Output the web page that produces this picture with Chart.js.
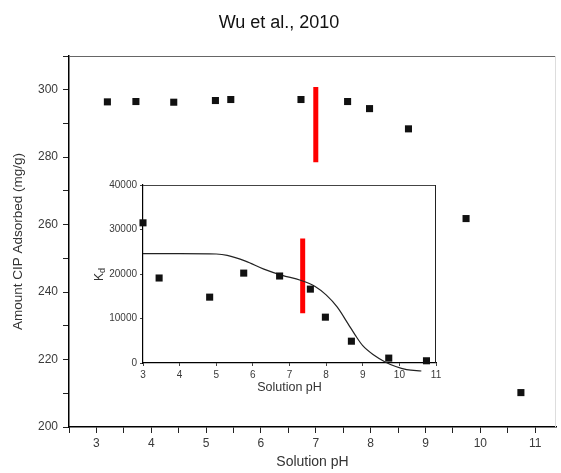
<!DOCTYPE html>
<html>
<head>
<meta charset="utf-8">
<script src="https://cdn.jsdelivr.net/npm/chart.js@4.4.1/dist/chart.umd.min.js"></script>
<style>
  body { margin: 0; background: #fff; }
  #wrap { position: relative; width: 561px; height: 473px; }
  #inset { position: absolute; left: 90px; top: 172px; background: #fff; }
</style>
</head>
<body>
<div id="wrap">
  <canvas id="mainChart" width="561" height="473"></canvas>
  <canvas id="inset" width="355" height="225"></canvas>
</div>
<script>
// main plot: CIP adsorbed vs pH
const mainPH = [3.2, 3.72, 4.41, 5.17, 5.45, 6.73, 7.58, 7.98, 8.69, 9.74, 10.74];
const mainAdsorbed = [296.4, 296.5, 296.3, 296.8, 297.1, 297.1, 296.5, 294.4, 288.4, 261.8, 210.2];
const mainRedPH = [7.0, 7.0];
const mainRedY = [300.8, 278.5];

// inset: Kd vs pH
const insetPH = [3.0, 3.44, 4.82, 5.75, 6.73, 7.57, 7.98, 8.69, 9.71, 10.74];
const insetKd = [31500, 19100, 14800, 20200, 19550, 16600, 10300, 4900, 1100, 500];
const fitPH = [3.0, 4.0, 5.0, 5.3, 5.8, 6.3, 6.8, 7.3, 7.7, 8.0, 8.3, 8.6, 8.8, 9.0, 9.3, 9.6, 9.9, 10.2, 10.6];
const fitKd = [24600, 24600, 24500, 24200, 22900, 21100, 19700, 18600, 17200, 15300, 12600, 8800, 6200, 3900, 1800, 300, -800, -1500, -1800];
const insetRedPH = [7.36, 7.36];
const insetRedKd = [28000, 11200];

const FONT = '"Liberation Sans", Arial, sans-serif';
const pts = (xs, ys) => xs.map((x, i) => ({x: x, y: ys[i]}));

Chart.defaults.font.family = FONT;
Chart.defaults.color = '#3a3a3a';

// frame lines not covered by the axes
const framePlugin = {
  id: 'frame',
  afterDraw(chart, args, opts) {
    const a = chart.chartArea, ctx = chart.ctx;
    ctx.save();
    ctx.lineWidth = 1;
    ctx.strokeStyle = opts.topColor;
    ctx.beginPath();
    ctx.moveTo(a.left, a.top + 0.5);
    ctx.lineTo(a.right, a.top + 0.5);
    ctx.stroke();
    ctx.strokeStyle = opts.rightColor;
    ctx.beginPath();
    ctx.moveTo(a.right - 0.5, a.top);
    ctx.lineTo(a.right - 0.5, a.bottom);
    ctx.stroke();
    ctx.restore();
  }
};

new Chart(document.getElementById('mainChart'), {
  type: 'scatter',
  data: {
    datasets: [{
      data: pts(mainPH, mainAdsorbed),
      pointStyle: 'rect',
      pointRadius: 5,
      backgroundColor: '#111',
      borderWidth: 0
    }, {
      data: pts(mainRedPH, mainRedY),
      showLine: true,
      borderColor: '#ff0000',
      borderWidth: 5,
      pointRadius: 0,
      borderCapStyle: 'butt'
    }]
  },
  options: {
    responsive: false,
    animation: false,
    layout: { padding: { left: 0, right: 3, top: 0, bottom: 0 } },
    plugins: {
      legend: { display: false },
      tooltip: { enabled: false },
      title: {
        display: true,
        text: 'Wu et al., 2010',
        color: '#111',
        font: { size: 18, weight: 'normal' },
        padding: { top: 12, bottom: 22.4 }
      },
      frame: { topColor: '#666', rightColor: '#ddd' }
    },
    scales: {
      x: {
        type: 'linear',
        min: 2.5,
        max: 11.38,
        border: { color: '#000', width: 1.5 },
        grid: { drawOnChartArea: false, tickLength: 6, color: '#222' },
        ticks: {
          stepSize: 0.5,
          includeBounds: false,
          padding: 3,
          maxRotation: 0,
          autoSkip: false,
          font: { size: 12 },
          callback: v => Number.isInteger(v) ? String(v) : ''
        },
        title: {
          display: true,
          text: 'Solution pH',
          color: '#333',
          font: { size: 14 },
          padding: { top: 2, bottom: 2 }
        },
        afterFit: s => { s.height = 46; }
      },
      y: {
        min: 200,
        max: 310,
        border: { color: '#000', width: 1.5 },
        grid: { drawOnChartArea: false, tickLength: 6, color: '#222' },
        ticks: {
          stepSize: 10,
          padding: 5,
          autoSkip: false,
          font: { size: 12 },
          callback: v => v % 20 === 0 ? String(v) : ''
        },
        title: {
          display: true,
          text: 'Amount CIP Adsorbed (mg/g)',
          color: '#333',
          font: { size: 13.5 },
          padding: { top: 10, bottom: 2 }
        },
        afterFit: s => { s.width = 69; }
      }
    }
  },
  plugins: [framePlugin]
});

// K with subscript d, rotated like an axis title
const kdLabel = {
  id: 'kdLabel',
  afterDraw(chart) {
    const ctx = chart.ctx, a = chart.chartArea;
    ctx.save();
    ctx.translate(10, (a.top + a.bottom) / 2);
    ctx.rotate(-Math.PI / 2);
    ctx.fillStyle = '#333';
    ctx.textBaseline = 'middle';
    ctx.font = '12px ' + FONT;
    const wk = ctx.measureText('K').width;
    ctx.fillText('K', -wk / 2 - 3, 0);
    ctx.font = '9px ' + FONT;
    ctx.fillText('d', wk / 2 - 3, 3);
    ctx.restore();
  }
};

new Chart(document.getElementById('inset'), {
  type: 'scatter',
  data: {
    datasets: [{
      data: pts(insetPH, insetKd),
      pointStyle: 'rect',
      pointRadius: 5,
      backgroundColor: '#111',
      borderWidth: 0,
      clip: false
    }, {
      data: pts(fitPH, fitKd),
      showLine: true,
      borderColor: '#222',
      borderWidth: 1.2,
      pointRadius: 0,
      tension: 0.4,
      cubicInterpolationMode: 'monotone',
      clip: false
    }, {
      data: pts(insetRedPH, insetRedKd),
      showLine: true,
      borderColor: '#ff0000',
      borderWidth: 5,
      pointRadius: 0,
      borderCapStyle: 'butt'
    }]
  },
  options: {
    responsive: false,
    animation: false,
    layout: { padding: { left: 0, right: 9, top: 13, bottom: 0 } },
    plugins: {
      legend: { display: false },
      tooltip: { enabled: false },
      frame: { topColor: '#444', rightColor: '#222' }
    },
    scales: {
      x: {
        type: 'linear',
        min: 3,
        max: 11,
        border: { color: '#000', width: 1.2 },
        grid: { drawOnChartArea: false, tickLength: 3, color: '#444' },
        ticks: { stepSize: 1, padding: 3, maxRotation: 0, font: { size: 10 } },
        title: {
          display: true,
          text: 'Solution pH',
          color: '#333',
          font: { size: 12.5 },
          padding: { top: 1, bottom: 1.5 }
        },
        afterFit: s => { s.height = 34; }
      },
      y: {
        min: 0,
        max: 40000,
        border: { color: '#000', width: 1.2 },
        grid: { drawOnChartArea: false, tickLength: 3, color: '#444' },
        ticks: {
          stepSize: 10000,
          padding: 3,
          font: { size: 10 },
          callback: v => String(v)
        },
        afterFit: s => { s.width = 53; }
      }
    }
  },
  plugins: [framePlugin, kdLabel]
});
</script>
</body>
</html>
